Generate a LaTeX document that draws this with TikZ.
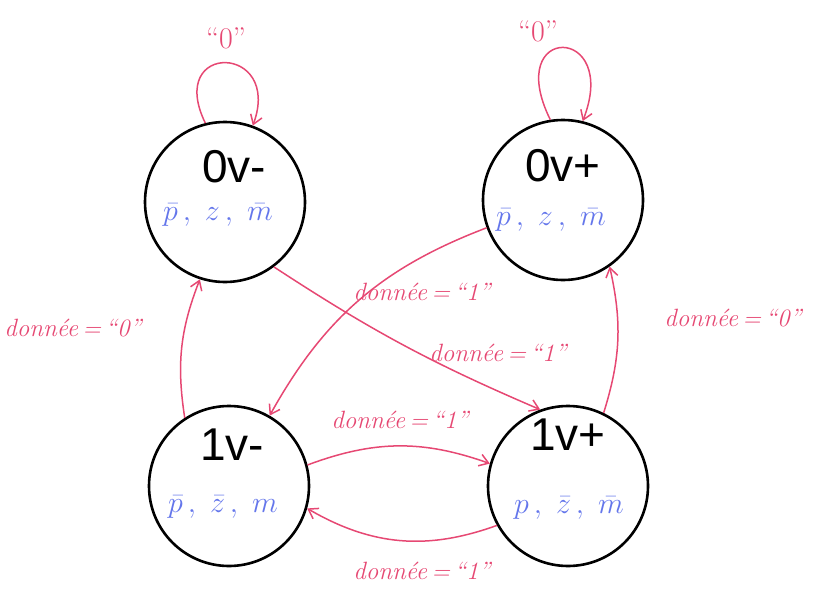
\documentclass[tikz,border=0pt]{standalone}
\usepackage{fix-cm}
\usepackage{fontspec}
\newfontfamily\statefont{Liberation Sans}
\usetikzlibrary{arrows.meta}
\definecolor{ink}{RGB}{230,72,115}
\definecolor{pen}{RGB}{100,118,235}
\begin{document}
\begin{tikzpicture}[x=1pt,y=1pt,
  state/.style={circle, draw=black, line width=2.6pt, minimum size=160pt, inner sep=0pt},
  sname/.style={font=\statefont\fontsize{46}{46}\selectfont, inner sep=0pt},
  flags/.style={text=pen, font=\fontsize{30}{30}\selectfont, inner sep=0pt},
  edge/.style={draw=ink, line width=1.5pt, -{Straight Barb[length=9pt,width=12pt]}},
  elabel/.style={text=ink, font=\itshape\fontsize{25}{25}\selectfont, inner sep=0pt},
  qlabel/.style={text=ink, font=\fontsize{30}{30}\selectfont, inner sep=0pt}]
\useasboundingbox (0,0) rectangle (814,-589);
% states
\node[state] (s0m) at (225,-202) {};
\node[state] (s0p) at (563,-200) {};
\node[state] (s1m) at (229,-486) {};
\node[state] (s1p) at (568,-486) {};
\node[sname] (t0m) at (234,-167) {0v-};
\node[sname] (t0p) at (563,-166) {0v+};
\node[sname] (t1m) at (232,-445) {1v-};
\node[sname] (t1p) at (568,-435) {1v+};
\node[flags] (f0m) at (218,-215) {$\bar{p}\,,\ z\,,\ \bar{m}$};
\node[flags] (f0p) at (551,-220) {$\bar{p}\,,\ z\,,\ \bar{m}$};
\node[flags] (f1m) at (223,-507) {$\bar{p}\,,\ \bar{z}\,,\ m$};
\node[flags] (f1p) at (569,-508) {$p\,,\ \bar{z}\,,\ \bar{m}$};
% self loops
\draw[edge] (s0m.104) .. controls +(-40,82) and +(30,82) .. (s0m.70);
\draw[edge] (s0p.99) .. controls +(-48,97) and +(38,97) .. (s0p.76);
\node[qlabel] (l0m) at (226,-38) {“0”};
\node[qlabel] (l0p) at (538,-31) {“0”};
% transitions
\draw[edge] (s1m.123) to[bend left=15] (s0m.252);
\draw[edge] (s1p.64) to[bend right=15] (s0p.305);
\draw[edge] (s0m.-53) to[bend right=5] (s1p.110);
\draw[edge] (s0p.200) to[bend right=20] (s1m.60);
\draw[edge] (s1m.15) to[bend left=20] (s1p.164);
\draw[edge] (s1p.209) to[bend left=25] (s1m.344);
% labels
\node[elabel] (a) at (73,-328) {donnée\,=\,“0”};
\node[elabel] (b) at (733,-318) {donnée\,=\,“0”};
\node[elabel] (c) at (422,-292) {donnée\,=\,“1”};
\node[elabel] (d) at (498,-353) {donnée\,=\,“1”};
\node[elabel] (e) at (400,-420) {donnée\,=\,“1”};
\node[elabel] (f) at (422,-571) {donnée\,=\,“1”};
\end{tikzpicture}
\end{document}
